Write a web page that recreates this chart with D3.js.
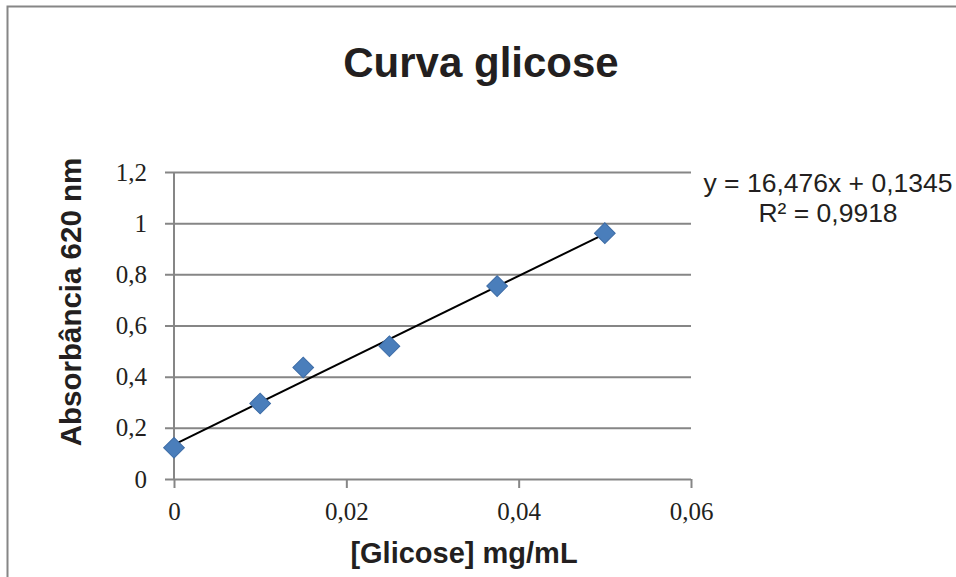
<!DOCTYPE html>
<html>
<head>
<meta charset="utf-8">
<script src="https://cdn.jsdelivr.net/npm/d3@7"></script>
<style>
  body { margin: 0; background: #fff; }
  svg { display: block; }
</style>
</head>
<body>
<div id="chart"></div>
<script>
'use strict';

// glucose concentration (mg/mL) and absorbance at 620 nm
var concentrations = [0, 0.01, 0.015, 0.025, 0.0375, 0.05];
var absorbances = [0.122, 0.295, 0.436, 0.519, 0.754, 0.961];
var xTicks = [0, 0.02, 0.04, 0.06];
var yTicks = [0, 0.2, 0.4, 0.6, 0.8, 1, 1.2];
var trendSlope = 16.476;
var trendIntercept = 0.1345;
var trendR2 = 0.9918;

var width = 956, height = 577;
var plot = { left: 174, right: 691, top: 172, bottom: 479 };
var gridColor = '#868686';
var textColor = '#231f20';

var fmt = function (v) { return String(v).replace('.', ','); };

var svg = d3.select('#chart').append('svg')
    .attr('width', width)
    .attr('height', height);

// chart frame (only top and left edges show)
svg.append('path')
    .attr('d', 'M7.5,' + height + 'V6.5H' + width)
    .attr('fill', 'none')
    .attr('stroke', gridColor)
    .attr('stroke-width', 2);

var x = d3.scaleLinear().domain([0, 0.06]).range([plot.left, plot.right]);
var y = d3.scaleLinear().domain([0, 1.2]).range([plot.bottom, plot.top]);

// horizontal gridlines + y axis
var yAxis = d3.axisLeft(y).tickValues(yTicks)
    .tickSize(-(plot.right - plot.left))
    .tickPadding(27)
    .tickFormat(fmt);

var gy = svg.append('g')
    .attr('transform', 'translate(' + plot.left + ',0)')
    .call(yAxis);
gy.select('.domain').remove();
gy.selectAll('.tick line')
    .attr('x1', -9)
    .attr('stroke', gridColor)
    .attr('stroke-width', 2);
gy.selectAll('.tick text')
    .attr('font-family', '"Liberation Serif", serif')
    .attr('font-size', 25)
    .attr('fill', textColor);

svg.append('line')
    .attr('x1', plot.left).attr('x2', plot.left)
    .attr('y1', plot.top).attr('y2', plot.bottom)
    .attr('stroke', gridColor)
    .attr('stroke-width', 2);

var xAxis = d3.axisBottom(x).tickValues(xTicks)
    .tickSize(9)
    .tickPadding(14)
    .tickFormat(fmt);

var gx = svg.append('g')
    .attr('transform', 'translate(0,' + plot.bottom + ')')
    .call(xAxis);
gx.select('.domain').remove();
gx.selectAll('.tick line')
    .attr('stroke', gridColor)
    .attr('stroke-width', 2);
gx.selectAll('.tick text')
    .attr('font-family', '"Liberation Serif", serif')
    .attr('font-size', 25)
    .attr('fill', textColor);

// linear trendline
var trendX = d3.extent(concentrations);
svg.append('path')
    .datum(trendX)
    .attr('d', d3.line()
        .x(function (d) { return x(d); })
        .y(function (d) { return y(trendSlope * d + trendIntercept); }))
    .attr('fill', 'none')
    .attr('stroke', '#000')
    .attr('stroke-width', 2);

// diamond markers
var diamond = d3.symbol().type(d3.symbolSquare).size(215);
svg.append('g').selectAll('path')
    .data(concentrations)
    .enter().append('path')
    .attr('d', diamond)
    .attr('transform', function (d, i) {
        return 'translate(' + x(d) + ',' + y(absorbances[i]) + ') rotate(45)';
    })
    .attr('fill', '#4a7ebb')
    .attr('stroke', '#3d6ca6')
    .attr('stroke-width', 1);

// titles
svg.append('text')
    .attr('x', 481).attr('y', 77)
    .attr('text-anchor', 'middle')
    .attr('font-family', '"Liberation Sans", Arial, sans-serif')
    .attr('font-weight', 'bold')
    .attr('font-size', 42)
    .attr('fill', textColor)
    .text('Curva glicose');

svg.append('text')
    .attr('x', 464).attr('y', 563)
    .attr('text-anchor', 'middle')
    .attr('font-family', '"Liberation Sans", Arial, sans-serif')
    .attr('font-weight', 'bold')
    .attr('font-size', 29)
    .attr('fill', textColor)
    .text('[Glicose] mg/mL');

svg.append('text')
    .attr('transform', 'translate(81,302) rotate(-90)')
    .attr('text-anchor', 'middle')
    .attr('font-family', '"Liberation Sans", Arial, sans-serif')
    .attr('font-weight', 'bold')
    .attr('font-size', 29.5)
    .attr('fill', textColor)
    .text('Absorbância 620 nm');

// trendline equation
var eq = svg.append('text')
    .attr('text-anchor', 'middle')
    .attr('font-family', '"Liberation Sans", Arial, sans-serif')
    .attr('font-size', 26.5)
    .attr('fill', textColor);
eq.append('tspan').attr('x', 828).attr('y', 192)
    .text('y = ' + fmt(trendSlope) + 'x + ' + fmt(trendIntercept));
eq.append('tspan').attr('x', 828).attr('y', 222)
    .text('R² = ' + fmt(trendR2));
</script>
</body>
</html>
